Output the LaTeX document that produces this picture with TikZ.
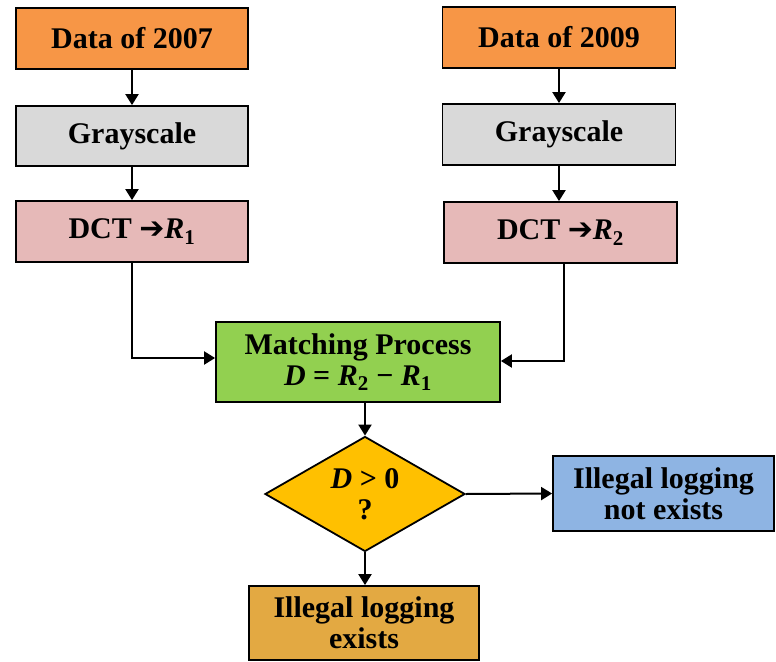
\documentclass[tikz,border=0pt]{standalone}
\usepackage{fontspec}
\setmainfont{Liberation Serif}
\newfontfamily\arrowfont{DejaVu Sans}
\usetikzlibrary{shapes.geometric,arrows.meta}
\definecolor{corange}{HTML}{F79646}
\definecolor{cgray}{HTML}{D9D9D9}
\definecolor{cpink}{HTML}{E6B9B8}
\definecolor{cgreen}{HTML}{92D050}
\definecolor{cyellow}{HTML}{FFC000}
\definecolor{cblue}{HTML}{8EB4E3}
\definecolor{cgold}{HTML}{E3A942}
\begin{document}
\begin{tikzpicture}[x=1pt,y=-1pt,
  box/.style={draw=black,line width=1.8pt,rectangle,inner sep=0pt,align=center,
    font=\fontsize{30}{31}\selectfont\bfseries},
  arr/.style={line width=2pt,-{Triangle[length=11pt,width=13pt]}}]
\useasboundingbox (0,0) rectangle (776,661);
% left column
\node[box,fill=corange,minimum width=232pt,minimum height=61pt] (d07) at (132,38.5) {Data of 2007};
\node[box,fill=cgray,minimum width=232pt,minimum height=60pt] (g1) at (132,136) {Grayscale};
\node[box,fill=cpink,minimum width=232pt,minimum height=61pt] (r1) at (132,231.5) {DCT {\arrowfont\bfseries ➔}\textit{R}\textsubscript{1}};
% right column
\node[box,fill=corange,minimum width=233pt,minimum height=61pt] (d09) at (559,37.5) {Data of 2009};
\node[box,fill=cgray,minimum width=233pt,minimum height=61pt] (g2) at (559,134.5) {Grayscale};
\node[box,fill=cpink,minimum width=233pt,minimum height=61pt] (r2) at (560.5,232.5) {DCT {\arrowfont\bfseries ➔}\textit{R}\textsubscript{2}};
% matching
\node[box,fill=cgreen,minimum width=284pt,minimum height=80pt] (mp) at (358,362) {Matching Process\\\textit{D} = \textit{R}\textsubscript{2} − \textit{R}\textsubscript{1}};
% decision
\node[diamond,draw=black,line width=1.8pt,fill=cyellow,inner sep=0pt,aspect=1.74,
  minimum width=200pt,minimum height=115pt,align=center,
  font=\fontsize{30}{31}\selectfont\bfseries] (dia) at (365,494) {\textit{D} > 0\\?};
\node[box,fill=cblue,minimum width=221pt,minimum height=75pt] (no) at (663.5,493.5) {Illegal logging\\not exists};
\node[box,fill=cgold,minimum width=230pt,minimum height=74pt] (yes) at (364,623) {Illegal logging\\exists};
% connectors
\draw[arr] (d07) -- (g1);
\draw[arr] (g1) -- (r1);
\draw[arr] (d09.south) -- (g2.north);
\draw[arr] (g2) -- (r2.north -| g2.south);
\draw[arr] ([xshift=3pt]r2.south) |- ([yshift=1pt]mp.east);
\draw[arr] (r1.south) |- ([yshift=4pt]mp.west);
\draw[arr] (mp.south -| dia.north) -- (dia.north);
\draw[arr] (dia.east) -- (no.west);
\draw[arr] (dia.south) -- (yes.north -| dia.south);
\end{tikzpicture}
\end{document}
